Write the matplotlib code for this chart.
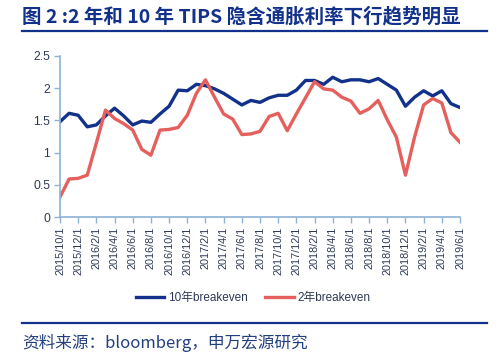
import pandas as pd
import numpy as np
import matplotlib
matplotlib.use("Agg")
import matplotlib.pyplot as plt
from matplotlib.lines import Line2D

plt.rcParams['font.family'] = ['Noto Sans CJK SC', 'DejaVu Sans']

# monthly observations, 2015/10 .. 2019/6
dates = pd.date_range('2015-10-01', periods=45, freq='MS')
tick_labels = [f"{d.year}/{d.month}/1" for d in dates]

be_10y = [1.48, 1.61, 1.58, 1.40, 1.43, 1.57, 1.69, 1.57, 1.43, 1.49,
          1.47, 1.60, 1.72, 1.97, 1.96, 2.06, 2.04, 1.99, 1.92, 1.83,
          1.74, 1.81, 1.78, 1.85, 1.89, 1.89, 1.97, 2.12, 2.12, 2.06,
          2.17, 2.10, 2.13, 2.13, 2.10, 2.15, 2.06, 1.97, 1.72, 1.86,
          1.96, 1.88, 1.96, 1.76, 1.70]
be_2y = [0.31, 0.59, 0.60, 0.65, 1.15, 1.66, 1.53, 1.45, 1.35, 1.05,
         0.96, 1.35, 1.36, 1.39, 1.58, 1.92, 2.13, 1.86, 1.60, 1.52,
         1.28, 1.29, 1.33, 1.56, 1.61, 1.34, 1.60, 1.85, 2.10, 1.99,
         1.97, 1.86, 1.80, 1.61, 1.68, 1.81, 1.51, 1.24, 0.65, 1.24,
         1.74, 1.84, 1.77, 1.31, 1.16]

title = "图 2 :2 年和 10 年 TIPS 隐含通胀利率下行趋势明显"
source = "资料来源：bloomberg，申万宏源研究"

navy = '#12318A'
salmon = '#E5605D'
axis_col = '#8DB3D6'
text_col = '#2E3A55'
latin_cjk = ['Liberation Sans', 'Noto Sans CJK SC']

fig = plt.figure(figsize=(5.04, 3.62), dpi=100)
ax = fig.add_axes([60 / 504, 1 - 217 / 362, 400 / 504, (217 - 56) / 362])

x = np.arange(len(dates))
ax.plot(x, be_10y, color=navy, lw=2.4, label='10年breakeven', solid_joinstyle='round')
ax.plot(x, be_2y, color=salmon, lw=2.4, label='2年breakeven', solid_joinstyle='round')

ax.set_xlim(0, len(dates) - 1)
ax.set_ylim(0, 2.5)
ax.set_yticks([0, 0.5, 1, 1.5, 2, 2.5])
ax.set_yticklabels(['0', '0.5', '1', '1.5', '2', '2.5'],
                   fontsize=8.8, color=text_col, family='Liberation Sans')
ax.set_xticks(x[::2])
ax.set_xticklabels(tick_labels[::2], rotation=90, fontsize=7.8,
                   color=text_col, family='Liberation Sans')

for side in ['top', 'right']:
    ax.spines[side].set_visible(False)
for side in ['left', 'bottom']:
    ax.spines[side].set_color(axis_col)
    ax.spines[side].set_linewidth(1.2)
ax.tick_params(axis='both', colors=axis_col, length=4, width=1, pad=3)
ax.tick_params(axis='both', labelcolor=text_col)

ax.legend(loc='center', bbox_to_anchor=(253 / 504, 1 - 298 / 362),
          bbox_transform=fig.transFigure, ncol=2, frameon=False,
          prop={'family': latin_cjk, 'size': 8.5},
          handlelength=2.4, columnspacing=1.5, handletextpad=0.3,
          labelcolor=text_col)

fig.text(22 / 504, 1 - 17 / 362, title, fontsize=14, fontweight='bold',
         color=navy, va='center', ha='left')
fig.add_artist(Line2D([22 / 504, 487 / 504], [1 - 31 / 362, 1 - 31 / 362],
                      color=navy, lw=1.6, transform=fig.transFigure))
fig.add_artist(Line2D([22 / 504, 487 / 504], [1 - 323 / 362, 1 - 323 / 362],
                      color=navy, lw=1.6, transform=fig.transFigure))
fig.text(22 / 504, 1 - 343 / 362, source, fontsize=12, color='#23407E',
         va='center', ha='left')

fig.savefig('out.png', dpi=100)
